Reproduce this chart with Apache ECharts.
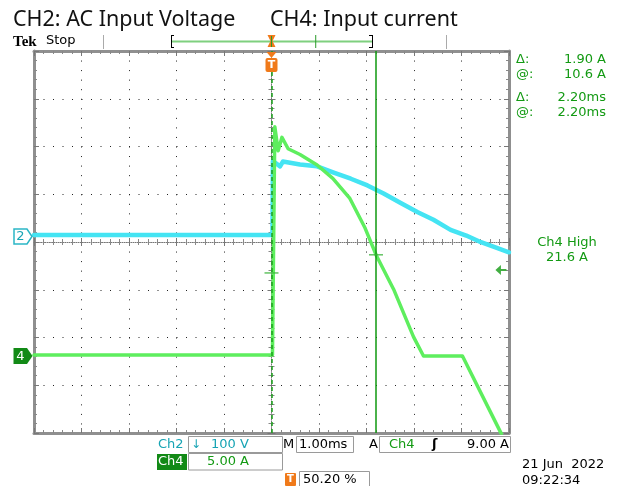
<!DOCTYPE html>
<html><head><meta charset="utf-8">
<script src="https://cdn.jsdelivr.net/npm/echarts@6/dist/echarts.min.js"></script>
<style>html,body{margin:0;padding:0;background:#fff}#c{width:619px;height:486px}</style>
</head><body><div id="c"></div>
<script>
// ---- data ----
const timeCh2 = [-5, 0.02, 0.03, 0.18, 0.24, 0.60, 0.96, 1.31, 1.67, 2.02, 2.36, 2.72, 3.08, 3.41, 3.77, 4.10, 4.41, 4.70, 5.0];      // ms
const voltCh2 = [3, 3, 158, 147, 157, 151, 147, 134, 121, 107, 90, 70, 51, 35, 14, 2, -12, -22, -33];                                  // V
const timeCh4 = [-5, 0.02, 0.07, 0.14, 0.22, 0.35, 0.60, 0.96, 1.29, 1.65, 1.97, 2.21, 2.57, 2.99, 3.20, 4.02, 4.84];                // ms
const ampCh4  = [0.1, 0.1, 24.0, 21.5, 22.9, 21.7, 21.1, 20.0, 18.6, 16.5, 13.4, 10.5, 7.0, 2.0, 0, 0, -8.15];                       // A
const cursorTimes = [0, 2.2];        // ms
const cursorAmps  = [8.7, 10.6];     // A
const triggerLevel = 9.0;            // A
const triggerArrowTime = 4.83;       // ms
// axis scaling (per scope settings)
const timeRange = [-5, 5];           // 1.00 ms/div, 10 div
const divRange = [-4, 4];            // 8 div
const ch2Range = [-411.5, 388.5];    // 100 V/div, ground 0.115 div above center
const ch4Range = [-8.06, 31.94];     // 5 A/div, ground 2.387 div below center
// texts
const titleLeft = 'CH2: AC Input Voltage';
const titleRight = 'CH4: Input current';
const readouts = [['Δ:', '1.90 A'], ['@:', '10.6 A'], ['Δ:', '2.20ms'], ['@:', '2.20ms']];
const measLabel = ['Ch4 High', '21.6 A'];

const GREEN = '#139a13';
const TEAL = '#17a4b4';
const CYAN = '#44e4f3';
const TRACE_G = '#5eee5e';
const ORANGE = '#f07a1a';
const FONT = '13px "DejaVu Sans", sans-serif';

const chart = echarts.init(document.getElementById('c'));

function xAx(pos, onZero, inside, split, showLine, lineStyle) {
  return {
    type: 'value', min: timeRange[0], max: timeRange[1], interval: 1, position: pos,
    axisLine: { show: showLine, onZero: onZero, onZeroAxisIndex: 0, lineStyle: lineStyle },
    axisTick: { show: true, inside: inside, length: onZero ? 4 : 5, lineStyle: { color: '#777', width: 1 } },
    minorTick: { show: true, splitNumber: 5, length: 3, lineStyle: { color: '#888', width: 1 } },
    axisLabel: { show: false },
    splitLine: { show: split, lineStyle: { color: '#222', width: 1, type: [1, 8.55] } },
    minorSplitLine: { show: false }
  };
}
function yAx(pos, onZero, inside, split, showLine, lineStyle) {
  return {
    type: 'value', min: divRange[0], max: divRange[1], interval: 1, position: pos,
    axisLine: { show: showLine, onZero: onZero, onZeroAxisIndex: 0, lineStyle: lineStyle },
    axisTick: { show: true, inside: inside, length: onZero ? 4 : 5, lineStyle: { color: '#777', width: 1 } },
    minorTick: { show: true, splitNumber: 5, length: 3, lineStyle: { color: '#888', width: 1 } },
    axisLabel: { show: false },
    splitLine: { show: split, lineStyle: { color: '#222', width: 1, type: [1, 8.5] } },
    minorSplitLine: { show: false }
  };
}
const borderStyle = { color: '#8f8f8f', width: 3 };
const centerStyle = { color: '#777', width: 1, type: [1, 1.2] };

const option = {
  animation: false,
  backgroundColor: '#fff',
  grid: { left: 34, top: 51, width: 475, height: 382, show: false, outerBoundsMode: 'none' },
  xAxis: [
    xAx('bottom', false, true, true, true, borderStyle),
    xAx('top', false, true, false, true, borderStyle),
    xAx('bottom', true, true, false, true, centerStyle),
    xAx('bottom', true, false, false, false, centerStyle)
  ],
  yAxis: [
    yAx('left', false, true, true, true, borderStyle),
    yAx('right', false, true, false, true, borderStyle),
    yAx('left', true, true, false, true, centerStyle),
    yAx('left', true, false, false, false, centerStyle),
    { type: 'value', min: ch2Range[0], max: ch2Range[1], show: false, splitLine: { show: false }, axisLine: { onZero: false } },
    { type: 'value', min: ch4Range[0], max: ch4Range[1], show: false, splitLine: { show: false }, axisLine: { onZero: false } }
  ],
  series: [
    {
      name: 'CH2', type: 'line', yAxisIndex: 4, showSymbol: false, symbol: 'none', z: 5,
      lineStyle: { color: CYAN, width: 4.5, cap: 'round', join: 'round' },
      data: timeCh2.map((t, i) => [t, voltCh2[i]])
    },
    {
      name: 'CH4', type: 'line', yAxisIndex: 5, showSymbol: false, symbol: 'none', z: 6,
      lineStyle: { color: TRACE_G, width: 3.5, cap: 'round', join: 'round' },
      data: timeCh4.map((t, i) => [t, ampCh4[i]]),
      markLine: {
        silent: true, symbol: ['none', 'none'], label: { show: false }, z: 10,
        data: [
          { xAxis: cursorTimes[0], lineStyle: { color: '#1aa01a', width: 1.5, type: [4, 3] } },
          { xAxis: cursorTimes[1], lineStyle: { color: '#0f980f', width: 1.5, type: 'solid' } }
        ]
      }
    },
    {
      name: 'cursorMarks', type: 'scatter', yAxisIndex: 5, z: 11, silent: true,
      symbol: 'rect', symbolSize: [14, 1.5], itemStyle: { color: '#3cb43c' },
      data: cursorTimes.map((t, i) => [t, cursorAmps[i]])
    },
    {
      name: 'trigLevel', type: 'scatter', yAxisIndex: 5, z: 11, silent: true,
      symbol: 'path://M0,5 L6,0 L6,4 L12,4 L12,6 L6,6 L6,10 Z', symbolSize: [11, 10],
      itemStyle: { color: GREEN },
      data: [[triggerArrowTime, triggerLevel]]
    }
  ]
};
chart.setOption(option);

// ---- scope chrome ----
const g = [];
function txt(x, y, s, opt) {
  g.push({ type: 'text', z: 110, style: Object.assign({ x: x, y: y, text: s, font: FONT, fill: '#000', align: 'left', verticalAlign: 'middle' }, opt || {}) });
}
function rect(x, y, w, h, opt) {
  g.push({ type: 'rect', z: 99, shape: { x: x, y: y, width: w, height: h }, style: Object.assign({ fill: 'none', stroke: '#9a9a9a', lineWidth: 1 }, opt || {}) });
}
function line(x1, y1, x2, y2, opt) {
  g.push({ type: 'line', z: 99, shape: { x1: x1, y1: y1, x2: x2, y2: y2 }, style: Object.assign({ stroke: '#000', lineWidth: 1 }, opt || {}) });
}
// title
txt(13, 20, titleLeft, { font: '21.5px "Noto Sans", sans-serif', fill: '#111' });
txt(270, 20, titleRight, { font: '21.5px "Noto Sans", sans-serif', fill: '#111' });
// Tek Stop
txt(13, 42, 'Tek', { font: 'bold 15px "Liberation Serif", serif' });
txt(46, 41, 'Stop', { font: '13px "DejaVu Sans", sans-serif' });
// record bar
line(103.5, 35, 103.5, 49, { stroke: '#aaa' });
line(446.5, 35, 446.5, 49, { stroke: '#aaa' });
const xt0 = chart.convertToPixel({ xAxisIndex: 0 }, 0);
const barL = 171, barR = 372;
line(barL, 41.5, barR, 41.5, { stroke: '#7fd07f', lineWidth: 2 });
line(barL + 0.5, 35, barL + 0.5, 48, {}); line(barL, 35.5, barL + 3, 35.5, {}); line(barL, 47.5, barL + 3, 47.5, {});
line(barR + 0.5, 35, barR + 0.5, 48, {}); line(barR - 3, 35.5, barR, 35.5, {}); line(barR - 3, 47.5, barR, 47.5, {});
const barC = (barL + barR) / 2;
const barCur = barC + (cursorTimes[1] / 5) * (barR - barL) / 2;
line(barCur, 35, barCur, 48, { stroke: '#2a9a2a' });
g.push({ type: 'polygon', z: 101, shape: { points: [[barC - 4, 35], [barC + 4, 35], [barC + 1, 41], [barC + 4, 47], [barC - 4, 47], [barC - 1, 41]] }, style: { fill: ORANGE } });
g.push({ type: 'line', z: 102, shape: { x1: barC, y1: 36, x2: barC, y2: 47 }, style: { stroke: '#2a9a2a', lineWidth: 1 } });
// trigger position marker
g.push({ type: 'polygon', z: 101, shape: { points: [[xt0 - 5, 52], [xt0 + 5, 52], [xt0, 58]] }, style: { fill: ORANGE } });
g.push({ type: 'rect', z: 101, shape: { x: xt0 - 6, y: 58, width: 12, height: 14, r: 2 }, style: { fill: ORANGE } });
txt(xt0, 65.5, 'T', { fill: '#fff', align: 'center', font: 'bold 11px "DejaVu Sans", sans-serif' });
// channel markers
const y2 = chart.convertToPixel({ yAxisIndex: 4 }, 0);
const y4 = chart.convertToPixel({ yAxisIndex: 5 }, 0);
g.push({ type: 'polygon', z: 101, shape: { points: [[14, y2 - 7.5], [27, y2 - 7.5], [32, y2], [27, y2 + 7.5], [14, y2 + 7.5]] }, style: { fill: '#fff', stroke: '#2bb6c6', lineWidth: 1.5 } });
txt(20.5, y2 + 0.5, '2', { fill: TEAL, align: 'center', font: '13px "DejaVu Sans", sans-serif' });
g.push({ type: 'polygon', z: 101, shape: { points: [[13.5, y4 - 8], [27, y4 - 8], [32.5, y4], [27, y4 + 8], [13.5, y4 + 8]] }, style: { fill: '#128a16' } });
txt(20.5, y4 + 0.5, '4', { fill: '#fff', align: 'center', font: '13px "DejaVu Sans", sans-serif' });
// right readouts
const ry = [60, 75, 98, 113];
readouts.forEach((r, i) => {
  txt(516, ry[i], r[0], { fill: GREEN });
  txt(606, ry[i], r[1], { fill: GREEN, align: 'right' });
});
txt(567, 243, measLabel[0], { fill: GREEN, align: 'center' });
txt(567, 258, measLabel[1], { fill: GREEN, align: 'center' });
// bottom boxes
txt(158, 444.5, 'Ch2', { fill: TEAL });
rect(188.5, 436.5, 94, 16);
txt(191, 444.5, '↓', { fill: TEAL, font: '12px "DejaVu Sans", sans-serif' });
txt(211, 444.5, '100 V', { fill: TEAL });
txt(283, 444.5, 'M');
rect(296.5, 436.5, 57, 16);
txt(299, 444.5, '1.00ms');
txt(369, 444.5, 'A');
rect(379.5, 436.5, 131, 16);
txt(389, 444.5, 'Ch4', { fill: GREEN });
txt(432, 444.5, 'ʃ', { font: 'bold 13px "DejaVu Sans", sans-serif' });
txt(509, 444.5, '9.00 A', { align: 'right' });
g.push({ type: 'rect', z: 99, shape: { x: 157, y: 454, width: 30, height: 16 }, style: { fill: '#128a16' } });
txt(158, 462, 'Ch4', { fill: '#fff' });
rect(188.5, 453.5, 94, 16.5);
txt(207, 462, '5.00 A', { fill: GREEN });
g.push({ type: 'rect', z: 99, shape: { x: 285, y: 473, width: 11, height: 13, r: 1 }, style: { fill: ORANGE } });
txt(290.5, 479.5, 'T', { fill: '#fff', align: 'center', font: 'bold 10px "DejaVu Sans", sans-serif' });
rect(299.5, 471.5, 70, 16);
txt(303, 479.5, '50.20 %');
txt(522, 465, '21 Jun  2022');
txt(522, 481, '09:22:34');

chart.setOption({ graphic: { elements: g } });
</script>
</body></html>
